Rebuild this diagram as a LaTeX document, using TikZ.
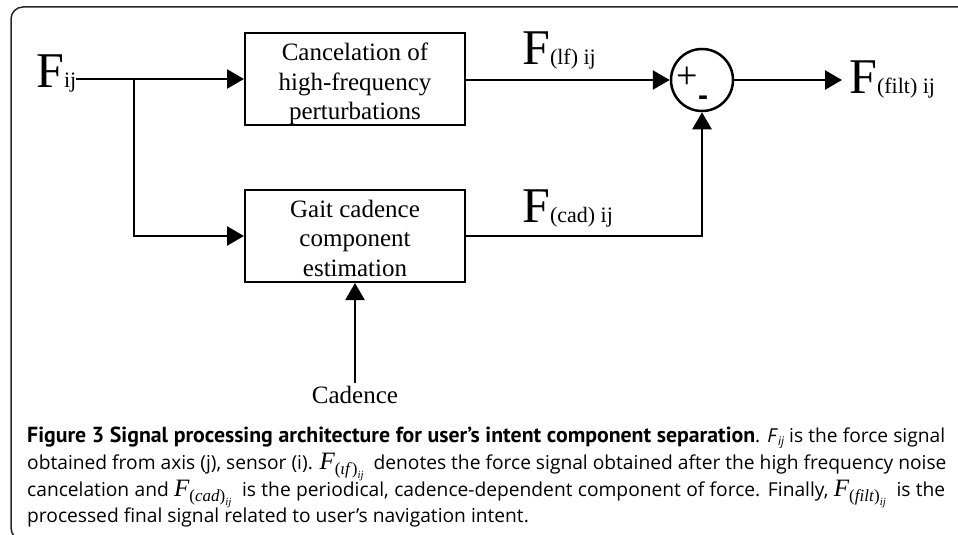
\documentclass[tikz,border=0pt]{standalone}
\usepackage{fontspec}
\setmainfont{Liberation Serif}
\newfontfamily\capfont{Open Sans}
\newfontfamily\capbold{PT Sans Bold}
\newfontfamily\tms{Liberation Serif}
\newfontfamily\minusfont{Liberation Sans Bold}
\usetikzlibrary{arrows.meta}
\newcommand\bigsig[1]{{\fontsize{50}{50}\selectfont F}{\fontsize{22}{22}\selectfont #1}}
\newcommand\capF[1]{{\tms{\fontsize{25}{25}\selectfont\itshape F}\raisebox{-5pt}{\fontsize{17}{17}\selectfont (\itshape #1\/\upshape)}\raisebox{-9pt}{\fontsize{11}{11}\selectfont\itshape ij}}}
\tikzset{
  blk/.style={draw, line width=2pt, inner sep=0pt},
  sig/.style={line width=2.5pt, -{Triangle[length=17pt,width=19pt]}},
  wire/.style={line width=2.5pt},
  lbl/.style={inner sep=0pt, anchor=base west},
  capline/.style={inner sep=0pt, anchor=base west, font=\capfont\fontsize{19.2}{19.2}\selectfont},
}
\newcommand\boxtext[1]{\parbox[c][92pt][t]{220pt}{\centering\fontsize{25}{29.5}\selectfont\vspace*{10pt}#1}}
\begin{document}
\begin{tikzpicture}[x=1pt,y=-1pt]
\useasboundingbox (0,0) rectangle (958,535);
\draw[line width=1.5pt, rounded corners=12pt, black!85] (975,7) -- (11,7) -- (11,540) -- (975,540);
% input
\node[lbl] (fij) at (36,87) {\bigsig{ij}};
\coordinate (br) at (134,79);
% blocks
\node[blk] (b1) at (355,79) {\boxtext{Cancelation of\\high-frequency\\perturbations}};
\node[blk] (b2) at (355,236) {\boxtext{Gait cadence\\component\\estimation}};
% summing junction
\node[draw, circle, line width=2.5pt, minimum size=62pt, inner sep=0pt] (sum) at (702,80) {};
\node[inner sep=0pt, font=\fontsize{38}{38}\selectfont] (plus) at (687,78) {+};
\node[inner sep=0pt, font=\minusfont\fontsize{30}{30}\selectfont] (minus) at (703,101) {-};
% labels
\node[lbl] (flf) at (522,65) {\bigsig{(lf) ij}};
\node[lbl] (fcad) at (522,222) {\bigsig{(cad) ij}};
\node[lbl] (ffilt) at (849,93) {\bigsig{(filt) ij}};
\node[inner sep=2pt, anchor=base, font=\fontsize{25}{25}\selectfont] (cad) at (355,403) {Cadence};
% connectors
\draw[wire] (fij.east |- br) -- (br);
\draw[sig] (br) -- (b1.west |- br);
\draw[sig] (br) |- (b2.west);
\draw[sig] (b1.east |- sum) -- (sum.west);
\draw[sig] (b2.east) -| (sum.south);
\draw[sig] (sum.east) -- ([xshift=-7pt]ffilt.west |- sum);
\draw[sig] (cad.north) -- (b2.south);
% caption
\node[capline] (c1) at (27,442) {\makebox[918pt][s]{{\capbold\fontsize{21.8}{21.8}\selectfont Figure 3 Signal processing architecture for user’s intent component separation}. \textit{F}\raisebox{-3pt}{\fontsize{12}{12}\selectfont\itshape ij} is the force signal}};
\node[capline] (c2) at (27,469) {obtained from axis (j), sensor (i). \capF{ιf}\ \ denotes the force signal obtained after the high frequency noise};
\node[capline] (c3) at (27,496) {\makebox[918pt][s]{cancelation and \capF{cad}\ \ is the periodical, cadence-dependent component of force. Finally, \capF{filt}\ \ is the}};
\node[capline] (c4) at (27,522) {processed final signal related to user’s navigation intent.};
\end{tikzpicture}
\end{document}
